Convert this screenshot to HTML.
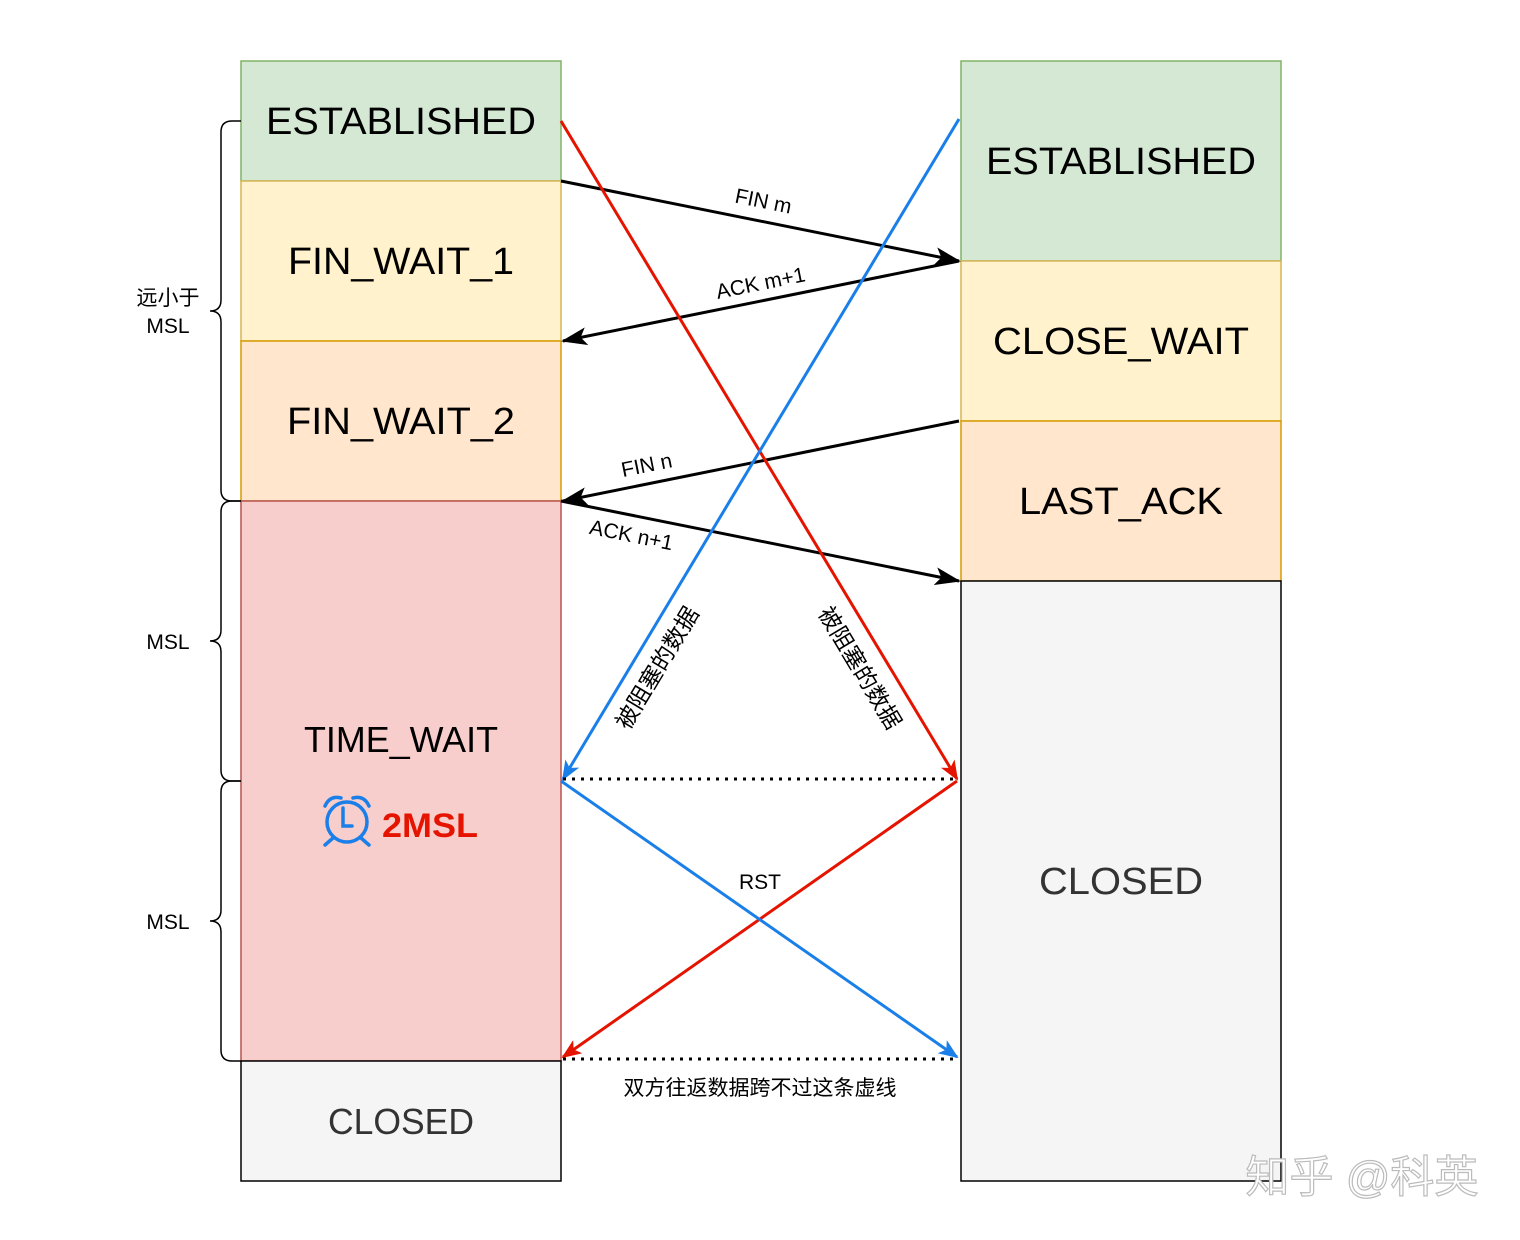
<!DOCTYPE html>
<html><head><meta charset="utf-8"><style>
html,body{margin:0;padding:0;background:#fff;}
svg{display:block;}
text{font-family:"Liberation Sans","Noto Sans CJK SC",sans-serif;}
</style></head><body>
<svg width="1520" height="1240" viewBox="0 0 1520 1240" xmlns="http://www.w3.org/2000/svg">
<defs>
<marker id="ar" markerWidth="20" markerHeight="16" refX="18" refY="8" orient="auto" markerUnits="userSpaceOnUse"><path d="M0,0 L20,8 L0,16 L5,8 Z" fill="#e51400"/></marker>
<marker id="ab" markerWidth="20" markerHeight="16" refX="18" refY="8" orient="auto" markerUnits="userSpaceOnUse"><path d="M0,0 L20,8 L0,16 L5,8 Z" fill="#1a7fe8"/></marker>
<marker id="abk" markerWidth="26" markerHeight="18" refX="24" refY="9" orient="auto" markerUnits="userSpaceOnUse"><path d="M0,0 L26,9 L0,18 L6,9 Z" fill="#000"/></marker>
</defs>
<rect x="241" y="61" width="320" height="120" fill="#d5e8d4" stroke="#82b366" stroke-width="1.5"/>
<rect x="241" y="181" width="320" height="160" fill="#fff2cc" stroke="#d6b656" stroke-width="1.5"/>
<rect x="241" y="341" width="320" height="160" fill="#ffe6cc" stroke="#d79b00" stroke-width="1.5"/>
<rect x="241" y="501" width="320" height="560" fill="#f8cecc" stroke="#b85450" stroke-width="1.5"/>
<rect x="241" y="1061" width="320" height="120" fill="#f5f5f5" stroke="#000" stroke-width="1.5"/>
<rect x="961" y="61" width="320" height="200" fill="#d5e8d4" stroke="#82b366" stroke-width="1.5"/>
<rect x="961" y="261" width="320" height="160" fill="#fff2cc" stroke="#d6b656" stroke-width="1.5"/>
<rect x="961" y="421" width="320" height="160" fill="#ffe6cc" stroke="#d79b00" stroke-width="1.5"/>
<rect x="961" y="581" width="320" height="600" fill="#f5f5f5" stroke="#000" stroke-width="1.5"/>
<g font-size="38" text-anchor="middle" fill="#000">
<text x="401" y="134" textLength="270" lengthAdjust="spacingAndGlyphs">ESTABLISHED</text>
<text x="401" y="274" textLength="226" lengthAdjust="spacingAndGlyphs">FIN_WAIT_1</text>
<text x="401" y="434" textLength="228" lengthAdjust="spacingAndGlyphs">FIN_WAIT_2</text>
<text x="401" y="752" font-size="36" textLength="194" lengthAdjust="spacingAndGlyphs">TIME_WAIT</text>
<text x="401" y="1134" font-size="36" fill="#333" textLength="146" lengthAdjust="spacingAndGlyphs">CLOSED</text>
<text x="1121" y="174" textLength="270" lengthAdjust="spacingAndGlyphs">ESTABLISHED</text>
<text x="1121" y="354" textLength="256" lengthAdjust="spacingAndGlyphs">CLOSE_WAIT</text>
<text x="1121" y="514" textLength="204" lengthAdjust="spacingAndGlyphs">LAST_ACK</text>
<text x="1121" y="894" fill="#333" textLength="164" lengthAdjust="spacingAndGlyphs">CLOSED</text>
</g>
<g stroke="#1a7fe8" stroke-width="3.5" fill="none" stroke-linecap="round">
<circle cx="347" cy="822" r="20"/>
<path d="M343,808 V826 H352"/>
<path d="M325,806 Q330,795 341,798"/><path d="M353,798 Q364,795 369,806"/>
<path d="M333,838 L325,845"/><path d="M361,838 L369,845"/>
</g>
<text x="382" y="837" font-size="34" font-weight="bold" fill="#e51400" textLength="96" lengthAdjust="spacingAndGlyphs">2MSL</text>
<g stroke="#000" stroke-width="1.5" fill="none">
<path d="M241,121 H232 Q221,121 221,132 V300 Q221,311 210,311 Q221,311 221,322 V490 Q221,501 232,501 H241"/>
<path d="M241,501 H232 Q221,501 221,512 V630 Q221,641 210,641 Q221,641 221,652 V770 Q221,781 232,781 H241"/>
<path d="M241,781 H232 Q221,781 221,792 V910 Q221,921 210,921 Q221,921 221,932 V1050 Q221,1061 232,1061 H241"/>
</g>
<g font-size="21" text-anchor="middle" fill="#000">
<text x="168" y="305">远小于</text>
<text x="168" y="333">MSL</text>
<text x="168" y="649">MSL</text>
<text x="168" y="929">MSL</text>
</g>
<g stroke="#000" stroke-width="3" fill="none">
<line x1="561" y1="181" x2="959" y2="261" marker-end="url(#abk)"/>
<line x1="959" y1="261" x2="563" y2="341" marker-end="url(#abk)"/>
<line x1="959" y1="421" x2="563" y2="501" marker-end="url(#abk)"/>
<line x1="561" y1="501" x2="959" y2="581" marker-end="url(#abk)"/>
</g>
<g font-size="21" fill="#000" text-anchor="middle">
<text transform="translate(762,208) rotate(11.4)">FIN m</text>
<text transform="translate(762,290) rotate(-11.4)">ACK m+1</text>
<text transform="translate(648,472) rotate(-11.4)">FIN n</text>
<text transform="translate(630,542) rotate(11.4)">ACK n+1</text>
</g>
<line x1="561" y1="121" x2="957" y2="779" stroke="#e51400" stroke-width="3" marker-end="url(#ar)"/>
<line x1="957" y1="781" x2="563" y2="1057" stroke="#e51400" stroke-width="3" marker-end="url(#ar)"/>
<line x1="959" y1="119" x2="563" y2="779" stroke="#1a7fe8" stroke-width="3" marker-end="url(#ab)"/>
<line x1="561" y1="781" x2="957" y2="1057" stroke="#1a7fe8" stroke-width="3" marker-end="url(#ab)"/>
<line x1="563" y1="779" x2="957" y2="779" stroke="#000" stroke-width="3" stroke-dasharray="3,6"/>
<line x1="563" y1="1059" x2="957" y2="1059" stroke="#000" stroke-width="3" stroke-dasharray="3,6"/>
<g font-size="23" fill="#000" text-anchor="middle">
<text transform="translate(664,672) rotate(-59)">被阻塞的数据</text>
<text transform="translate(853,672) rotate(59)">被阻塞的数据</text>
<text x="760" y="889" font-size="21">RST</text>
<text x="760" y="1095" font-size="21">双方往返数据跨不过这条虚线</text>
</g>
<text x="1362" y="1192" font-size="44" text-anchor="middle" fill="#fff" stroke="#bbb" stroke-width="1.2">知乎 @科英</text>
</svg>
</body></html>
